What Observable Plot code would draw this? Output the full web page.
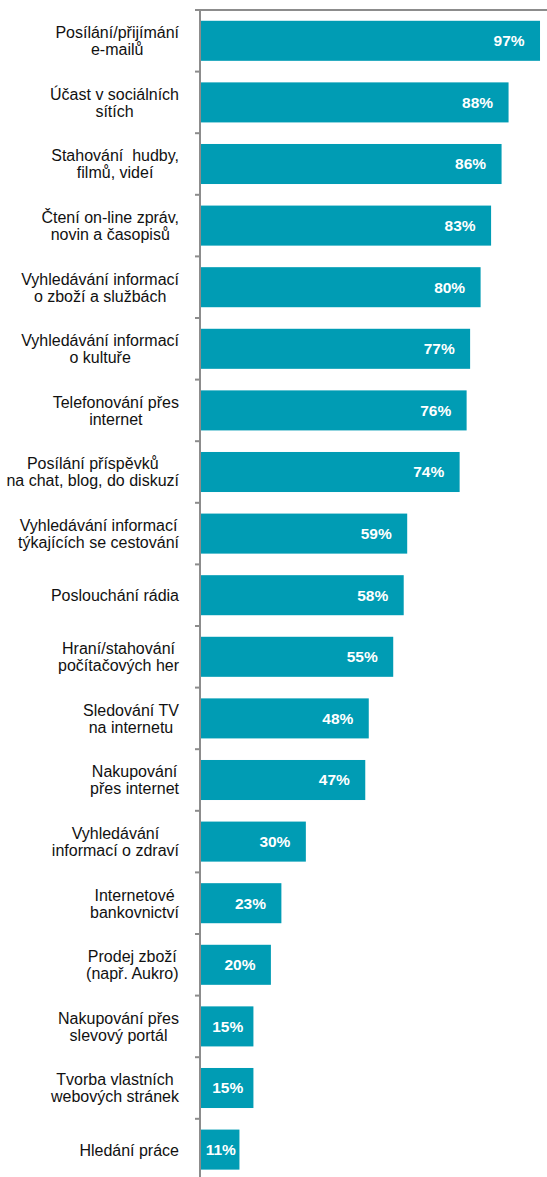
<!DOCTYPE html>
<html>
<head>
<meta charset="utf-8">
<script src="https://cdn.jsdelivr.net/npm/d3@7"></script>
<script src="https://cdn.jsdelivr.net/npm/@observablehq/plot@0.6"></script>
<style>
  html, body { margin: 0; padding: 0; background: #fff; }
  #chart svg { display: block; }
  #chart svg text { white-space: pre; }
</style>
</head>
<body>
<div id="chart"></div>
<script>
const categories = [
  "Posílání/přijímání\ne-mailů",
  "Účast v sociálních\nsítích",
  "Stahování  hudby,\nfilmů, videí",
  "Čtení on-line zpráv,\nnovin a časopisů",
  "Vyhledávání informací\no zboží a službách",
  "Vyhledávání informací\no kultuře",
  "Telefonování přes\ninternet",
  "Posílání příspěvků\nna chat, blog, do diskuzí",
  "Vyhledávání informací\ntýkajících se cestování",
  "Poslouchání rádia",
  "Hraní/stahování\npočítačových her",
  "Sledování TV\nna internetu",
  "Nakupování\npřes internet",
  "Vyhledávání\ninformací o zdraví",
  "Internetové\nbankovnictví",
  "Prodej zboží\n(např. Aukro)",
  "Nakupování přes\nslevový portál",
  "Tvorba vlastních\nwebových stránek",
  "Hledání práce"
];
const values = [97, 88, 86, 83, 80, 77, 76, 74, 59, 58, 55, 48, 47, 30, 23, 20, 15, 15, 11];
const valueLabels = values.map(v => v + "%");

const data = categories.map((c, i) => ({category: c, value: values[i], label: valueLabels[i]}));

const FONT = "'Liberation Sans', Arial, Helvetica, sans-serif";
const xDomain = [0, 100];
const xRange = [201, 550.5];
const yRange = [10, 1180.4];
const labelRight = 178.5;

const ctx = document.createElement("canvas").getContext("2d");
ctx.font = "16px " + FONT;
const blockWidth = c => d3.max(c.split("\n"), l => ctx.measureText(l).width);
const xPx = d3.scaleLinear(xDomain, xRange);

const axisMark = (index, scales, vals, dims) => {
  const y = scales.y;
  const step = y(categories[1]) - y(categories[0]);
  const bw = typeof y.bandwidth === "function" ? y.bandwidth() : step * 0.65;
  const x0 = scales.x(0);
  const g = d3.create("svg:g")
    .attr("stroke", "#8c8c8c")
    .attr("stroke-width", 2)
    .attr("fill", "none");
  const top = y(categories[0]) - (step - bw) / 2;
  g.append("line").attr("x1", x0 - 6).attr("x2", dims.width).attr("y1", top).attr("y2", top);
  g.append("line").attr("x1", x0 - 1).attr("x2", x0 - 1).attr("y1", top).attr("y2", dims.height);
  categories.forEach(c => {
    const yy = y(c) - (step - bw) / 2;
    g.append("line").attr("x1", x0 - 6).attr("x2", x0 - 1).attr("y1", yy).attr("y2", yy);
  });
  return g.node();
};

const chart = Plot.plot({
  width: 547,
  height: 1177,
  marginTop: 10,
  marginBottom: 0,
  marginLeft: 201,
  marginRight: 0,
  style: {fontFamily: FONT, background: "#fff", overflow: "visible"},
  x: {domain: xDomain, range: xRange, axis: null},
  y: {domain: categories, range: yRange, paddingInner: 0.35, paddingOuter: 0.175, round: false, axis: null},
  marks: [
    Plot.barX(data, {x: "value", y: "category", fill: "#009CB4"}),
    axisMark,
    Plot.text(data, {
      x: d => xPx.invert(labelRight - blockWidth(d.category) / 2),
      y: "category",
      text: "category",
      textAnchor: "middle",
      lineHeight: 1.0625,
      fontSize: 16,
      fill: "#111"
    }),
    Plot.text(data, {
      x: d => Math.max(d.value - 9, d.value / 2),
      y: "category",
      text: "label",
      textAnchor: "middle",
      fill: "white",
      fontWeight: "bold",
      fontSize: 15.5
    })
  ]
});

document.getElementById("chart").append(chart);
</script>
</body>
</html>
